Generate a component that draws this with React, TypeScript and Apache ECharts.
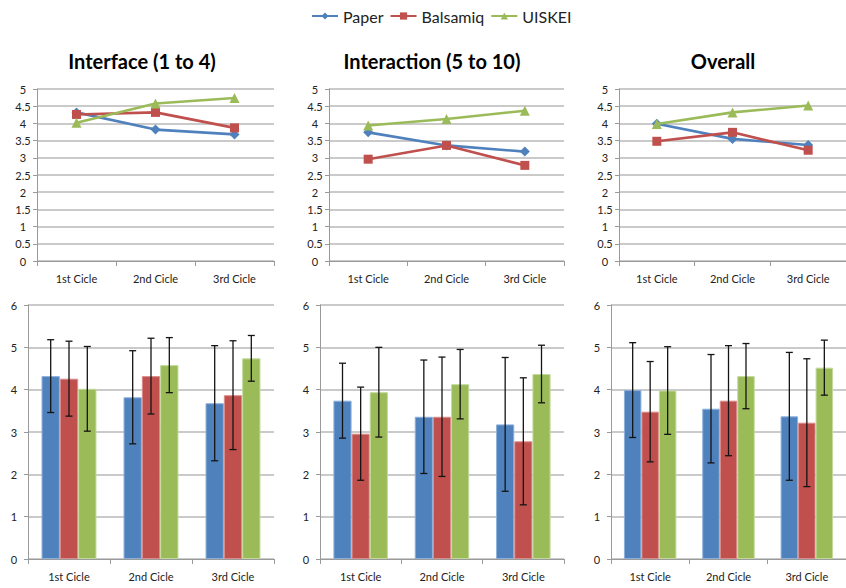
import React, { useEffect, useRef } from "react";
import * as echarts from "echarts";

const categories = ["1st Cicle", "2nd Cicle", "3rd Cicle"];
const seriesNames = ["Paper", "Balsamiq", "UISKEI"];
const panelTitles = ["Interface (1 to 4)", "Interaction (5 to 10)", "Overall"];

// Interface (1 to 4)
const interfacePaper = [4.32, 3.82, 3.68];
const interfaceBalsamiq = [4.26, 4.32, 3.87];
const interfaceUiskei = [4.02, 4.58, 4.74];
const interfacePaperSd = [0.86, 1.1, 1.36];
const interfaceBalsamiqSd = [0.885, 0.895, 1.285];
const interfaceUiskeiSd = [1.0, 0.65, 0.54];

// Interaction (5 to 10)
const interactionPaper = [3.74, 3.36, 3.18];
const interactionBalsamiq = [2.96, 3.36, 2.78];
const interactionUiskei = [3.94, 4.13, 4.37];
const interactionPaperSd = [0.885, 1.34, 1.58];
const interactionBalsamiqSd = [1.1, 1.41, 1.5];
const interactionUiskeiSd = [1.06, 0.82, 0.68];

// Overall
const overallPaper = [3.99, 3.55, 3.37];
const overallBalsamiq = [3.48, 3.74, 3.22];
const overallUiskei = [3.98, 4.32, 4.52];
const overallPaperSd = [1.12, 1.28, 1.51];
const overallBalsamiqSd = [1.185, 1.3, 1.51];
const overallUiskeiSd = [1.035, 0.77, 0.65];

const lineYTicks = { min: 0, max: 5, interval: 0.5 };
const barYTicks = { min: 0, max: 6, interval: 1 };

const means = [
  [interfacePaper, interfaceBalsamiq, interfaceUiskei],
  [interactionPaper, interactionBalsamiq, interactionUiskei],
  [overallPaper, overallBalsamiq, overallUiskei],
];
const sds = [
  [interfacePaperSd, interfaceBalsamiqSd, interfaceUiskeiSd],
  [interactionPaperSd, interactionBalsamiqSd, interactionUiskeiSd],
  [overallPaperSd, overallBalsamiqSd, overallUiskeiSd],
];

const COLORS = ["#4F81BD", "#C0504D", "#9BBB59"];
const BORDERS = ["#8DB0DB", "#D98E8C", "#C3D99D"];
const SYMBOLS = ["diamond", "rect", "triangle"];
const SYMBOL_SIZES = [10, 9, 10];
const FONT = 'Lato, "Open Sans", sans-serif';
const GAP = 0.33;

const topGrids = [
  { left: 37, top: 89, width: 237, height: 172 },
  { left: 329, top: 89, width: 235, height: 172 },
  { left: 619, top: 89, width: 237, height: 172 },
];
const bottomGrids = [
  { left: 28, top: 305, width: 246, height: 254 },
  { left: 320, top: 305, width: 244, height: 254 },
  { left: 611, top: 305, width: 243, height: 254 },
];
const titleCenters = [142, 432, 723];

export default function App() {
  const ref = useRef<HTMLDivElement>(null);
  useEffect(() => {
    if (!ref.current) return;
    const chart = echarts.init(ref.current, null, { renderer: "svg" });

    const axisGray = "#9a9a9a";
    const gridGray = "#b9b9b9";
    const labelStyle = { color: "#222", fontSize: 11, fontFamily: FONT };

    const grids = [...topGrids, ...bottomGrids];
    const xAxis = grids.map((_, i) => ({
      type: "category",
      gridIndex: i,
      data: categories,
      boundaryGap: true,
      axisLine: { lineStyle: { color: axisGray, width: 1 } },
      axisTick: { show: true, length: 5, alignWithLabel: false, lineStyle: { color: axisGray } },
      axisLabel: { ...labelStyle, margin: 12 },
      splitLine: { show: false },
    }));
    const yAxis = grids.map((_, i) => {
      const t = i < 3 ? lineYTicks : barYTicks;
      return {
        type: "value",
        gridIndex: i,
        min: t.min,
        max: t.max,
        interval: t.interval,
        axisLine: { show: true, lineStyle: { color: axisGray, width: 1 } },
        axisTick: { show: true, length: 4, lineStyle: { color: axisGray } },
        axisLabel: { ...labelStyle, margin: 14, align: "center" },
        splitLine: { show: true, lineStyle: { color: gridGray, width: 1.5 } },
      };
    });

    const series: any[] = [];
    for (let p = 0; p < 3; p++) {
      for (let s = 0; s < 3; s++) {
        series.push({
          type: "line",
          name: seriesNames[s],
          xAxisIndex: p,
          yAxisIndex: p,
          data: means[p][s],
          symbol: SYMBOLS[s],
          symbolSize: SYMBOL_SIZES[s],
          lineStyle: { color: COLORS[s], width: 2.6 },
          itemStyle: { color: COLORS[s] },
          z: 3 + s,
        });
      }
    }
    for (let p = 0; p < 3; p++) {
      for (let s = 0; s < 3; s++) {
        series.push({
          type: "bar",
          name: seriesNames[s],
          xAxisIndex: p + 3,
          yAxisIndex: p + 3,
          data: means[p][s],
          barGap: "0%",
          barCategoryGap: GAP * 100 + "%",
          itemStyle: { color: COLORS[s], borderColor: BORDERS[s], borderWidth: 1 },
        });
      }
    }
    for (let p = 0; p < 3; p++) {
      for (let s = 0; s < 3; s++) {
        const idx = s;
        series.push({
          type: "custom",
          xAxisIndex: p + 3,
          yAxisIndex: p + 3,
          z: 10,
          data: categories.map((_, i) => [i, means[p][s][i], sds[p][s][i]]),
          encode: { x: 0, y: 1 },
          renderItem: (params: any, api: any) => {
            const ci = api.value(0);
            const m = api.value(1);
            const sd = api.value(2);
            const c = api.coord([ci, m]);
            const band = api.size([1, 0])[0];
            const bw = (band * (1 - GAP)) / 3;
            const x = c[0] + (idx - 1) * bw;
            const top = api.coord([ci, m + sd])[1];
            const bot = api.coord([ci, m - sd])[1];
            const cap = 3.5;
            const st = { stroke: "#141414", lineWidth: 1.3 };
            return {
              type: "group",
              children: [
                { type: "line", shape: { x1: x, y1: top, x2: x, y2: bot }, style: st },
                { type: "line", shape: { x1: x - cap, y1: top, x2: x + cap, y2: top }, style: st },
                { type: "line", shape: { x1: x - cap, y1: bot, x2: x + cap, y2: bot }, style: st },
              ],
            };
          },
        });
      }
    }

    chart.setOption({
      animation: false,
      backgroundColor: "#ffffff",
      textStyle: { fontFamily: FONT },
      legend: {
        data: seriesNames,
        top: 3,
        left: 306,
        itemWidth: 26,
        itemHeight: 9,
        itemGap: 6,
        textStyle: { fontSize: 16, color: "#222", fontFamily: FONT },
      },
      grid: grids.map((g) => ({ ...g, containLabel: false })),
      xAxis,
      yAxis,
      series,
      graphic: panelTitles.map((t, i) => ({
        type: "text",
        x: titleCenters[i],
        y: 61,
        style: {
          text: t,
          align: "center",
          verticalAlign: "middle",
          font: `bold 20px ${FONT}`,
          fill: "#000",
        },
      })),
    });
    return () => chart.dispose();
  }, []);

  return (
    <div
      ref={ref}
      style={{ position: "absolute", left: 0, top: 0, width: 846, height: 588 }}
    />
  );
}
